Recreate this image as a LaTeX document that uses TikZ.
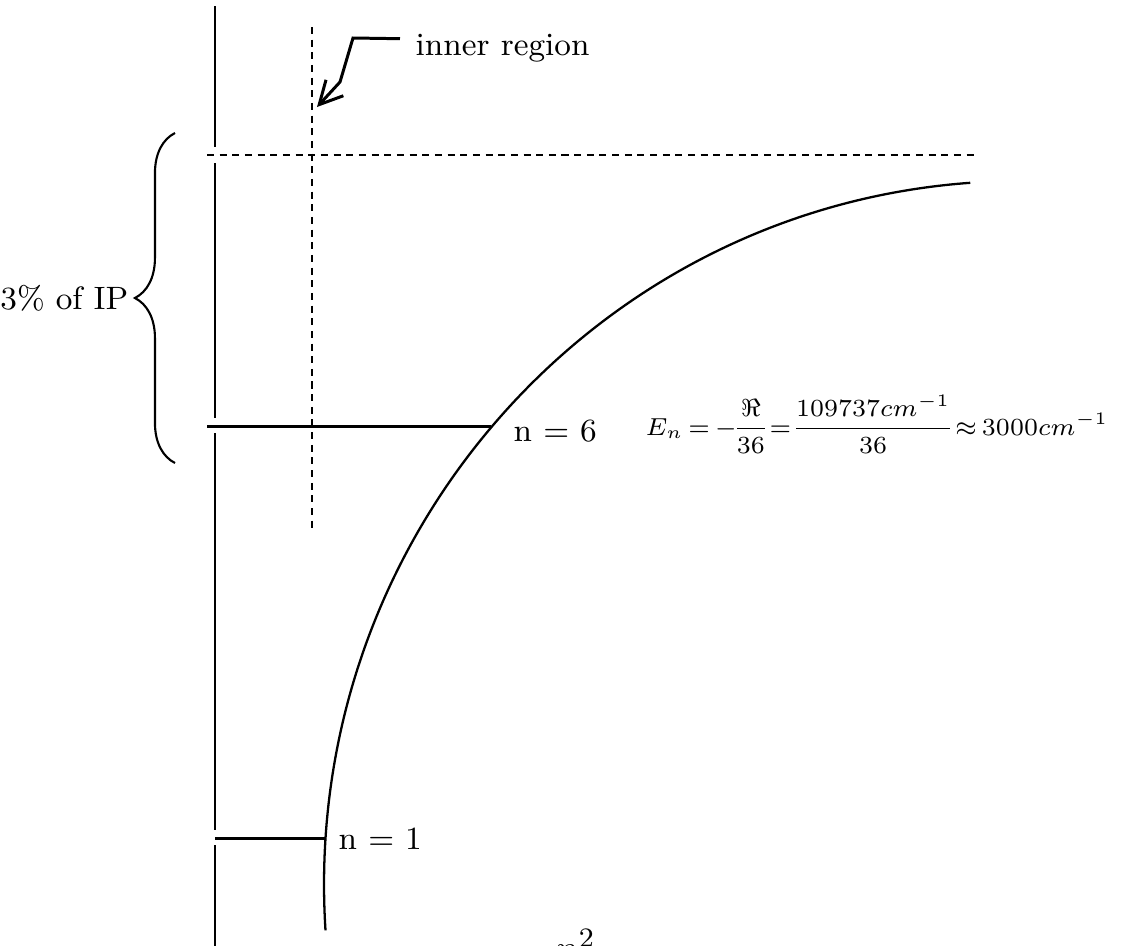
\documentclass[tikz,border=0pt]{standalone}
\usepackage{amssymb}
\usepackage{amsmath}
\usetikzlibrary{arrows.meta,decorations.pathreplacing}

\begin{document}
\begin{tikzpicture}[x=0.01cm, y=-0.01cm,
    axisline/.style={line width=0.85pt},
    levelline/.style={line width=0.85pt},
    guide/.style={line width=0.85pt, dash pattern=on 2pt off 1.6pt},
    pointer/.style={line width=0.85pt, -{Straight Barb[length=6.5pt, width=6.7pt]}},
    lbl/.style={font=\fontsize{9.2}{11}\selectfont, inner sep=0pt}]
      \clip (0,0) rectangle (1127,945);

      % Draw axis, broken where the lines cross it
      \foreach \ya/\yb in {6/147, 163/418, 433/830, 845/950}
          \draw[axisline] (215,\ya) -- (215,\yb);

      % Draw guides
      \draw[guide] (207,155) -- (975,155);
      \draw[guide] (312,27) -- (312,530);

      % Energy curve
      \draw[line width=0.65pt] (325.5,930.4) arc[start angle=176.3, end angle=265.9, x radius=696, y radius=704];

      % Levels
      \draw[levelline] (207,426) -- (491,426);
      \draw[levelline] (215,838) -- (326,838);
      \node[lbl, anchor=base west] (n6) at (513,441) {n = 6};
      \node[lbl, anchor=base west] (n1) at (338,849) {n = 1};

      % Label the inner region
      \node[lbl, anchor=base west] (inner) at (415,55) {inner region};
      \coordinate (kneea) at (353,38);
      \coordinate (kneeb) at (340,82);
      \coordinate (tip) at (317,107);
      \draw[pointer] ([xshift=-0.15cm, yshift=0.09cm]inner.west) -- (kneea) -- (kneeb) -- (tip);

      % Brace for 3% of IP
      \coordinate (bracelow) at (175,463);
      \coordinate (bracehigh) at (175,133);
      \draw[line width=0.6pt, decorate, decoration={brace, amplitude=11.4pt}] (bracelow) -- (bracehigh);
      \node[lbl, anchor=east] (ip) at (129,298) {3\% of IP};

      % Energy of n = 6
      \node[anchor=base west, inner sep=0pt, font=\fontsize{7.3}{9}\selectfont] (energy) at (645,435)
          {\thickmuskip=3mu \medmuskip=1.5mu \nulldelimiterspace=0pt
           $E_n = -\dfrac{\Re}{36} = \dfrac{109737cm^{-1}}{36} \approx 3000cm^{-1}$};
      \node[anchor=north west, inner sep=0pt, font=\fontsize{11}{13}\selectfont] (nsq) at (555,929) {$n^2$};
\end{tikzpicture}
\end{document}
